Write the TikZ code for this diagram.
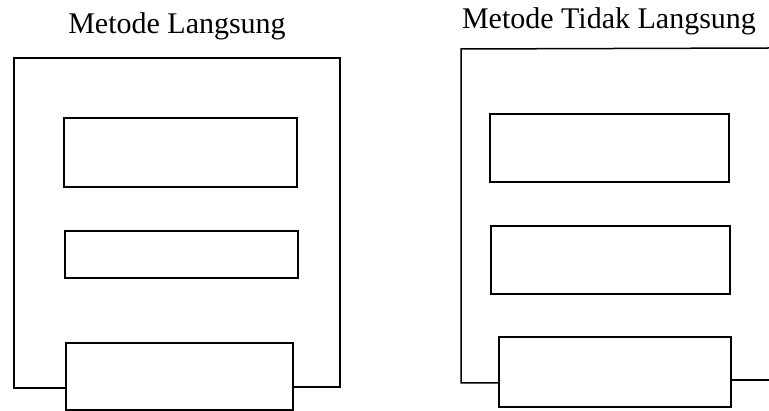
\documentclass[tikz,border=0pt]{standalone}
\usepackage{fontspec}
\setmainfont{Liberation Serif}
\begin{document}
\begin{tikzpicture}[x=1pt,y=-1pt,
  box/.style={draw, line width=1.5pt, inner sep=0pt, fill=white},
  frame/.style={draw, line width=1.5pt, line join=miter},
  title/.style={inner sep=0pt, font=\fontsize{30}{36}\selectfont}]
\useasboundingbox (0,0) rectangle (769,411);
% left panel
\node[title] (t1) at (177,26) {Metode Langsung};
\node[box, minimum width=233pt, minimum height=69pt] (a1) at (180.5,152.5) {};
\node[box, minimum width=233pt, minimum height=47pt] (a2) at (181.5,254.5) {};
\node[box, minimum width=227pt, minimum height=67pt] (a3) at (179.5,376.5) {};
\coordinate (afl) at (14,388);
\coordinate (aftl) at (14,58);
\coordinate (aftr) at (340,58);
\coordinate (afr) at (340,387);
\draw[frame] (a3.west |- afl) -- (afl) -- (aftl) -- (aftr) -- (afr) -- (a3.east |- afr);
% right panel
\node[title] (t2) at (609,21) {Metode Tidak Langsung};
\node[box, minimum width=239pt, minimum height=68pt] (b1) at (609.5,148) {};
\node[box, minimum width=239pt, minimum height=68pt] (b2) at (610.5,260) {};
\node[box, minimum width=232pt, minimum height=70pt] (b3) at (615,372) {};
\coordinate (bfl) at (461,383);
\coordinate (bftl) at (461,49);
\coordinate (bftr) at (769,48);
\coordinate (bfr) at (769,380);
\draw[frame] (b3.west |- bfl) -- (bfl) -- (bftl) -- (bftr);
\draw[frame] (b3.east |- bfr) -- (bfr);
\end{tikzpicture}
\end{document}
